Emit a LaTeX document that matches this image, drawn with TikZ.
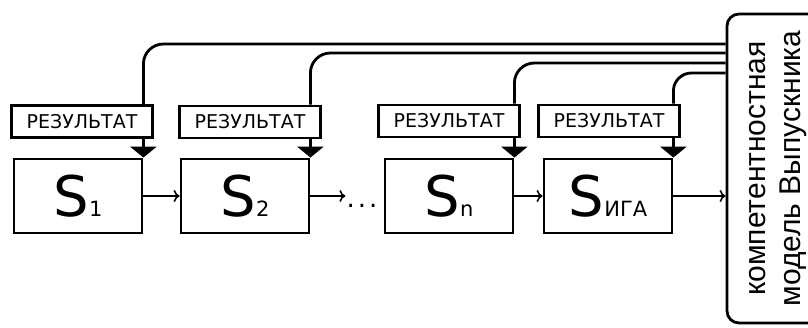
\documentclass[tikz,border=0pt]{standalone}
\usepackage{graphicx}
\usepackage{fontspec}
\setmainfont{DejaVu Sans}
\newfontfamily\modelfont{Liberation Sans}
\usetikzlibrary{arrows.meta}

% big S with its index
\newcommand{\stagelabel}[1]{{\fontsize{56}{56}\selectfont S}{\fontsize{21}{21}\selectfont #1}}

\begin{document}
\begin{tikzpicture}[x=1pt, y=-1pt,
      stage/.style  = {draw, line width=2.8pt, minimum width=128pt, minimum height=74pt, inner sep=0pt},
      result/.style = {draw, line width=2.8pt, minimum width=141pt, minimum height=32pt, inner sep=0pt, font=\fontsize{19}{19}\selectfont},
      model/.style  = {draw, line width=2.8pt, rounded corners=12pt, minimum width=98pt, minimum height=309pt, inner sep=0pt},
      feed/.style   = {line width=2.8pt, rounded corners=20pt},
      drop/.style   = {line width=2.8pt, -{Triangle[width=26pt,length=11pt]}},
      flow/.style   = {line width=1.6pt, -{To[length=6pt,width=12pt]}}
    ]
      \useasboundingbox (0,0) rectangle (808,327);

      % stages
      \node[stage] (s1) at (78,196)  {\stagelabel{1}};
      \node[stage] (s2) at (245,196) {\stagelabel{2}};
      \node[stage] (s3) at (449,196) {\stagelabel{n}};
      \node[stage] (s4) at (608,196) {\stagelabel{ИГА}};

      % results above the stages
      \node[result] (r1) at (82,121.5)  {РЕЗУЛЬТАТ};
      \node[result] (r2) at (250,122)   {РЕЗУЛЬТАТ};
      \node[result] (r3) at (449,121)   {РЕЗУЛЬТАТ};
      \node[result] (r4) at (609,121)   {РЕЗУЛЬТАТ};

      % graduate model
      \node[model] (model) at (776,168.5) {\rotatebox{90}{\modelfont\fontsize{30}{35}\selectfont
        \begin{tabular}{@{}c@{}}компетентностная\\модель Выпускника\end{tabular}}};

      \node (dots) at (362,206) {\fontsize{26}{26}\selectfont .\hspace{3pt}.\hspace{3pt}.};

      % chain of stages
      \path (s2.east) ++(35,0) coordinate (s2out);
      \draw[flow] (s1.east) -- (s2.west);
      \draw[flow] (s2.east) -- (s2out);
      \draw[flow] (s3.east) -- (s4.west);
      \draw[flow] (s4.east) -- (s4.east -| model.west);

      % results down into the stages
      \foreach \i in {1,2,3,4}
        \draw[drop] (s\i.north east |- r\i.south) -- (s\i.north east);

      % results up to the model
      \draw[feed] (s1.north east |- r1.north) |- (model.west |- 0,44);
      \draw[feed] (s2.north east |- r2.north) |- (model.west |- 0,53);
      \draw[feed] (s3.north east |- r3.north) |- (model.west |- 0,63);
      \draw[feed, rounded corners=18pt] (s4.north east |- r4.north) |- (model.west |- 0,73);
    \end{tikzpicture}
\end{document}
